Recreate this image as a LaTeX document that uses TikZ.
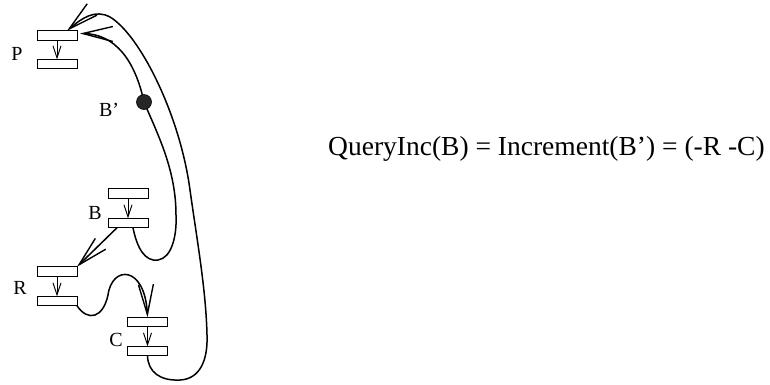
\documentclass[tikz,border=0pt]{standalone}
\usepackage{fontspec}
\setmainfont{Liberation Serif}
\usetikzlibrary{arrows.meta,calc}
\begin{document}
\begin{tikzpicture}[x=1pt,y=-1pt,
  box/.style={draw,line width=0.9pt,minimum width=40pt,minimum height=9.5pt,inner sep=0pt,outer sep=0pt},
  lab/.style={font=\fontsize{20}{20}\selectfont,inner sep=0pt},
  conn/.style={line width=1.5pt,-{Straight Barb[length=30pt,width=15pt,line width=1.4pt]}},
  small/.style={line width=0.9pt,-{Straight Barb[length=12pt,width=8pt,line width=0.9pt]}},
  dot/.style={circle,fill=black!85,draw=black,line width=0.6pt,minimum size=15pt,inner sep=0pt}]
\useasboundingbox (0,0) rectangle (770,384);
% boxes
\node[box] (P1) at (57,35.5) {};
\node[box] (P2) at (57,64) {};
\node[box] (B1) at (128,193.5) {};
\node[box] (B2) at (128,223) {};
\node[box] (R1) at (57,271.5) {};
\node[box] (R2) at (57,301) {};
\node[box] (C1) at (147.5,322) {};
\node[box] (C2) at (147.5,351) {};
% labels
\node[lab] (Pl) at (17,53.5) {P};
\node[lab] (Bl) at (95,213) {B};
\node[lab] (Rl) at (20,288) {R};
\node[lab] (Cl) at (116,340) {C};
\node[lab] (Bpl) at (109,110) {B’};
\node[anchor=base west,inner sep=0pt,font=\fontsize{27.5}{27.5}\selectfont] (eq) at (328,155)
  {QueryInc(B) = Increment(B’) = (-R -C)};
% small arrows inside pairs
\draw[small] (P1.south) -- (P2.north);
\draw[small] (B1.south) -- (B2.north);
\draw[small] (R1.south) -- (R2.north);
\draw[small] (C1.south) -- (C2.north);
% dot position
\coordinate (Bc) at (144,102);
% inner curve: B -> B' -> P
\draw[conn] ($(B2.south)+(5,0)$) .. controls (137,248) and (145,262) .. (158,260)
  .. controls (172,258) and (177,235) .. (176,215)
  .. controls (176,170) and (158,135) .. (Bc)
  .. controls (135,60) and (115,34) .. ($(P1.east)+(3,-2)$);
% outer curve: C -> P
\draw[conn] (C2.south) .. controls (148,372) and (160,381) .. (180,380)
  .. controls (200,379) and (208,360) .. (207,335)
  .. controls (206,290) and (197,240) .. (190,190)
  .. controls (180,115) and (140,35) .. (110,17)
  .. controls (95,9) and (82,18) .. ($(P1.north)+(10,0)$);
% B -> R
\draw[conn] ($(B2.south west)+(9,0)$) -- (R1.north east);
% R -> C
\draw[conn] (R2.south east) .. controls (88,322) and (103,318) .. (108,295)
  .. controls (112,265) and (145,265) .. (C1.north);
% the dot
\node[dot] (Bp) at (Bc) {};
\end{tikzpicture}
\end{document}
